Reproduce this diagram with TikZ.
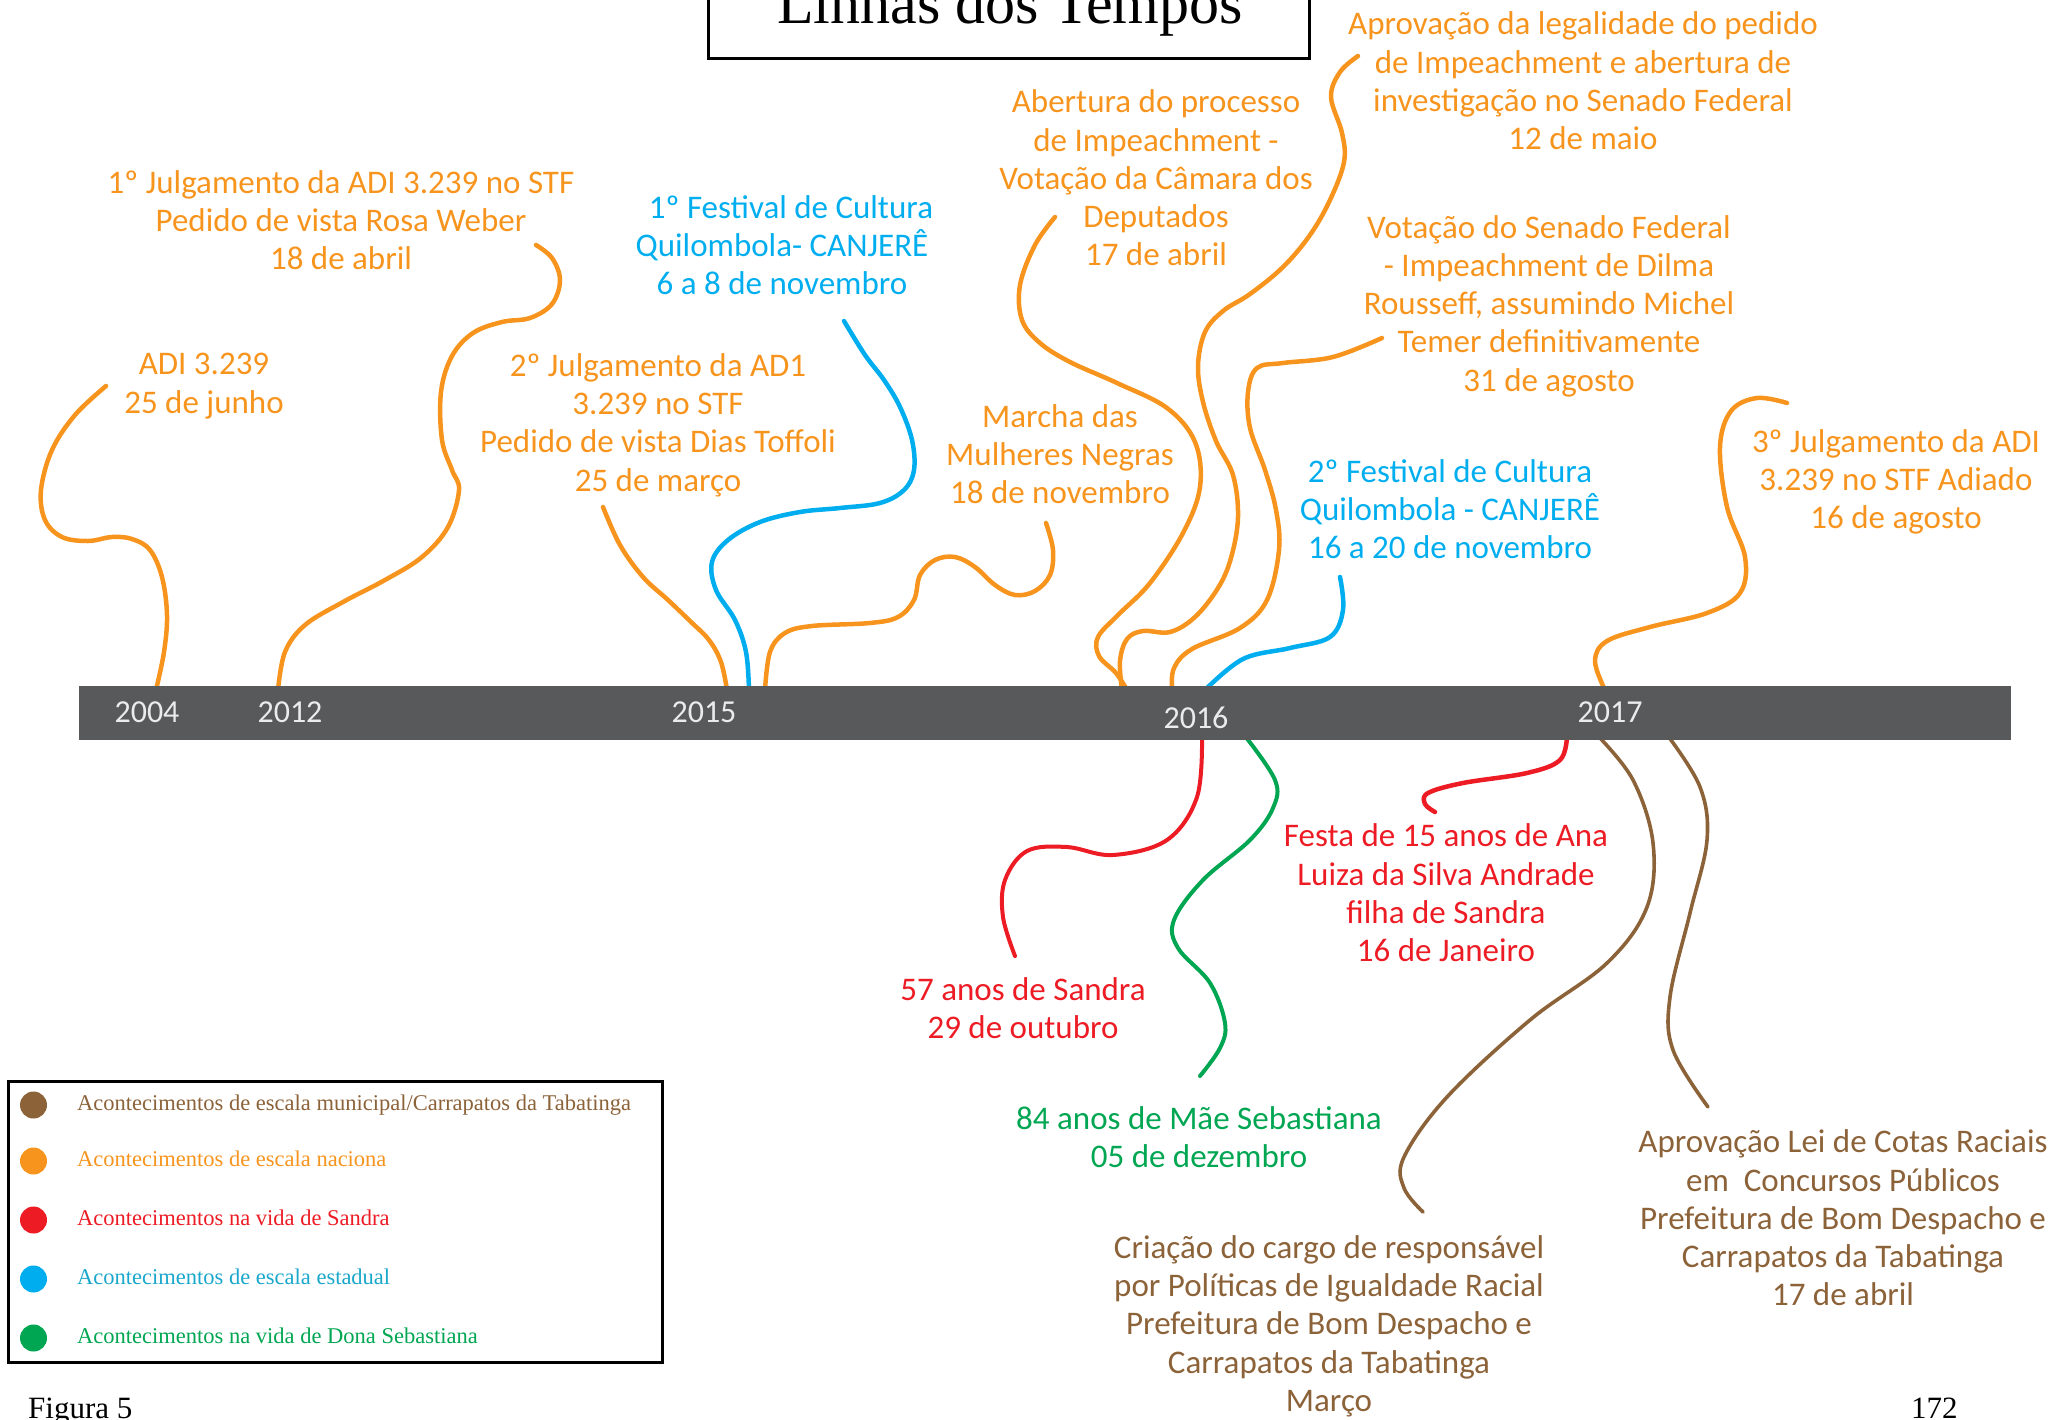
\documentclass[tikz,border=0pt]{standalone}
\usepackage{fontspec}
\setmainfont{Carlito}
\newfontfamily\serifrm{Liberation Serif}
\definecolor{orc}{HTML}{F7941D}
\definecolor{blc}{HTML}{00AEEF}
\definecolor{rdc}{HTML}{ED1C24}
\definecolor{grc}{HTML}{00A651}
\definecolor{brc}{HTML}{8C6239}
\definecolor{barc}{HTML}{58595B}
\definecolor{lgblue}{HTML}{1AA7CC}
\begin{document}
\begin{tikzpicture}[x=1pt,y=-1pt,
  lbl/.style={font=\fontsize{33}{38.3}\selectfont, align=center, inner sep=0pt},
  yr/.style={font=\fontsize{32}{36}\selectfont, text=white!92!black, inner sep=0pt},
  conn/.style={line width=4.5pt, line cap=round, line join=round},
  thinconn/.style={line width=4pt, line cap=round, line join=round},
  brconn/.style={line width=3.6pt, line cap=round, line join=round, draw=brc},
  lgtext/.style={anchor=base west, inner sep=0pt, font=\serifrm\fontsize{22.5}{27}\selectfont},
  capt/.style={anchor=base west, inner sep=0pt, font=\serifrm\fontsize{31}{36}\selectfont}]
\useasboundingbox (0,0) rectangle (2069,1419);

% title
\draw[line width=3pt] (708,-20) rectangle (1309,58);
\node[anchor=base, inner sep=0pt, font=\serifrm\fontsize{60}{70}\selectfont] (title) at (1010,23) {Linhas dos Tempos};

% labels
\node[lbl, text=orc] (t1) at (341,220) {1º Julgamento da ADI 3.239 no STF\\Pedido de vista Rosa Weber\\18 de abril};
\node[lbl, text=orc] (t2) at (204,386) {ADI 3.239\\25 de junho};
\node[lbl, text=blc] (t3) at (782,245) {\hspace*{18pt}1º Festival de Cultura\\Quilombola- CANJERÊ\\6 a 8 de novembro};
\node[lbl, text=orc] (t4) at (658,425) {2º Julgamento da AD1\\3.239 no STF\\Pedido de vista Dias Toffoli\\25 de março};
\node[lbl, text=orc] (t5) at (1156,178) {Abertura do processo\\de Impeachment -\\Votação da Câmara dos\\Deputados\\17 de abril};
\node[lbl, text=orc] (t6) at (1583,81) {Aprovação da legalidade do pedido\\de Impeachment e abertura de\\investigação no Senado Federal\\12 de maio};
\node[lbl, text=orc] (t7) at (1549,306) {Votação do Senado Federal\\- Impeachment de Dilma\\Rousseff, assumindo Michel\\Temer definitivamente\\31 de agosto};
\node[lbl, text=orc] (t8) at (1060,454) {Marcha das\\Mulheres Negras\\18 de novembro};
\node[lbl, text=blc] (t9) at (1450,509) {2º Festival de Cultura\\Quilombola - CANJERÊ\\16 a 20 de novembro};
\node[lbl, text=orc] (t10) at (1896,482) {3º Julgamento da ADI\\3.239 no STF Adiado\\16 de agosto};
\node[lbl, text=rdc] (t11) at (1446,893) {Festa de 15 anos de Ana\\Luiza da Silva Andrade\\filha de Sandra\\16 de Janeiro};
\node[lbl, text=rdc] (t12) at (1023,1008) {57 anos de Sandra\\29 de outubro};
\node[lbl, text=grc] (t13) at (1199,1137) {84 anos de Mãe Sebastiana\\05 de dezembro};
\node[lbl, text=brc] (t14) at (1329,1326) {Criação do cargo de responsável\\por Políticas de Igualdade Racial\\Prefeitura de Bom Despacho e\\Carrapatos da Tabatinga\\Março};
\node[lbl, text=brc] (t15) at (1843,1218) {Aprovação Lei de Cotas Raciais\\em \ Concursos Públicos\\Prefeitura de Bom Despacho e\\Carrapatos da Tabatinga\\17 de abril};

% connector end points
\coordinate (a1) at (106,386);  \coordinate (b1) at (156,690);
\coordinate (a2) at (536,245);  \coordinate (b2) at (278,690);
\coordinate (a3) at (603,507);  \coordinate (b3) at (727,690);
\coordinate (a4) at (844,321);  \coordinate (b4) at (749,690);
\coordinate (a5) at (1046,523); \coordinate (b5) at (765,690);
\coordinate (a6) at (1055,217); \coordinate (b6) at (1127,690);
\coordinate (a7) at (1358,56);  \coordinate (b7) at (1122,690);
\coordinate (a8) at (1382,338); \coordinate (b8) at (1172,690);
\coordinate (a9) at (1340,577); \coordinate (b9) at (1205,690);
\coordinate (a10) at (1787,403); \coordinate (b10) at (1605,690);
\coordinate (b11) at (1202,736); \coordinate (a11) at (1015,956);
\coordinate (b12) at (1245,736); \coordinate (a12) at (1200,1076);
\coordinate (b13) at (1567,736); \coordinate (a13) at (1435,812);
\coordinate (b14) at (1598,736); \coordinate (a14) at (1423,1212);
\coordinate (b15) at (1668,736); \coordinate (a15) at (1708,1107);

% connectors above
\draw[conn, orc] plot[smooth, tension=0.6] coordinates {(a1) (75,415) (52,450) (41,490) (45,520) (62,537) (88,541) (112,537) (132,539) (150,550) (162,577) (167,615) (164,652) (b1)};
\draw[conn, orc] plot[smooth, tension=0.6] coordinates {(a2) (552,258) (560,280) (552,304) (530,318) (502,322) (473,333) (452,356) (441,392) (442,440) (452,470) (459,490) (448,527) (422,557) (385,580) (343,602) (305,625) (285,652) (b2)};
\draw[conn, orc] plot[smooth, tension=0.6] coordinates {(a3) (620,545) (643,577) (668,600) (690,621) (709,640) (721,662) (b3)};
\draw[conn, blc] plot[smooth, tension=0.6] coordinates {(a4) (865,355) (884,380) (900,407) (912,440) (914,470) (904,490) (880,503) (840,508) (800,512) (760,522) (728,540) (712,562) (716,590) (735,620) (746,652) (b4)};
\draw[conn, orc] plot[smooth, tension=0.6] coordinates {(a5) (1053,550) (1050,575) (1035,591) (1015,595) (995,585) (975,567) (955,557) (935,560) (920,575) (914,600) (898,617) (870,623) (812,626) (785,633) (770,652) (b5)};
\draw[conn, orc] plot[smooth, tension=0.6] coordinates {(a6) (1035,245) (1020,285) (1022,320) (1040,343) (1070,362) (1117,383) (1167,408) (1195,442) (1200,487) (1183,533) (1150,583) (1118,615) (1098,637) (1099,656) (1116,673) (b6)};
\draw[conn, orc] plot[smooth, tension=0.6] coordinates {(a7) (1340,72) (1331,97) (1342,133) (1344,162) (1330,200) (1310,235) (1283,267) (1250,294) (1223,311) (1205,332) (1198,366) (1203,402) (1216,441) (1233,475) (1238,517) (1231,558) (1218,588) (1195,617) (1170,632) (1143,631) (1127,639) (1120,661) (b7)};
\draw[conn, orc] plot[smooth, tension=0.6] coordinates {(a8) (1333,357) (1283,363) (1257,368) (1248,392) (1250,428) (1265,470) (1276,510) (1279,550) (1267,600) (1240,628) (1192,649) (1174,668) (b8)};
\draw[conn, blc] plot[smooth, tension=0.6] coordinates {(a9) (1343,610) (1330,637) (1290,648) (1243,659) (b9)};
\draw[conn, orc] plot[smooth, tension=0.6] coordinates {(a10) (1757,398) (1731,411) (1720,447) (1727,507) (1745,557) (1740,593) (1707,613) (1650,627) (1607,641) (1595,661) (b10)};

% connectors below
\draw[thinconn, rdc] plot[smooth, tension=0.6] coordinates {(b11) (1197,797) (1167,840) (1113,855) (1067,847) (1027,851) (1005,880) (1003,917) (a11)};
\draw[thinconn, grc] plot[smooth, tension=0.6] coordinates {(b12) (1275,780) (1273,808) (1250,840) (1203,880) (1174,920) (1178,948) (1210,983) (1225,1023) (1220,1048) (a12)};
\draw[conn, rdc] plot[smooth, tension=0.6] coordinates {(b13) (1560,760) (1527,773) (1463,783) (1428,793) (1425,804) (a13)};
\draw[brconn] plot[smooth, tension=0.6] coordinates {(b14) (1633,780) (1653,843) (1647,907) (1607,963) (1530,1020) (1447,1097) (1404,1157) (1404,1188) (a14)};
\draw[brconn] plot[smooth, tension=0.6] coordinates {(b15) (1700,787) (1707,840) (1690,913) (1670,997) (1673,1050) (a15)};

% bar
\node[fill=barc, anchor=north west, inner sep=0pt, minimum width=1932pt, minimum height=54pt] (bar) at (79,686) {};
\node[yr] (y2004) at (147,712) {2004};
\node[yr] (y2012) at (290,712) {2012};
\node[yr] (y2015) at (704,712) {2015};
\node[yr] (y2016) at (1196,718) {2016};
\node[yr] (y2017) at (1610,712) {2017};

% legend
\draw[line width=3pt] (8,1081) rectangle (662,1362);
\fill[brc] (33.5,1105) circle[radius=13.5pt];
\fill[orc] (33.5,1161) circle[radius=13.5pt];
\fill[rdc] (33.5,1220) circle[radius=13.5pt];
\fill[blc] (33.5,1279) circle[radius=13.5pt];
\fill[grc] (33.5,1338) circle[radius=13.5pt];
\node[lgtext, text=brc] (l1) at (77,1110) {Acontecimentos de escala municipal/Carrapatos da Tabatinga};
\node[lgtext, text=orc] (l2) at (77,1166) {Acontecimentos de escala naciona};
\node[lgtext, text=rdc] (l3) at (77,1225) {Acontecimentos na vida de Sandra};
\node[lgtext, text=lgblue] (l4) at (77,1284) {Acontecimentos de escala estadual};
\node[lgtext, text=grc] (l5) at (77,1343) {Acontecimentos na vida de Dona Sebastiana};

% captions
\node[capt] (fig) at (28,1418) {Figura 5};
\node[capt] (pg) at (1911,1418) {172};
\end{tikzpicture}
\end{document}
